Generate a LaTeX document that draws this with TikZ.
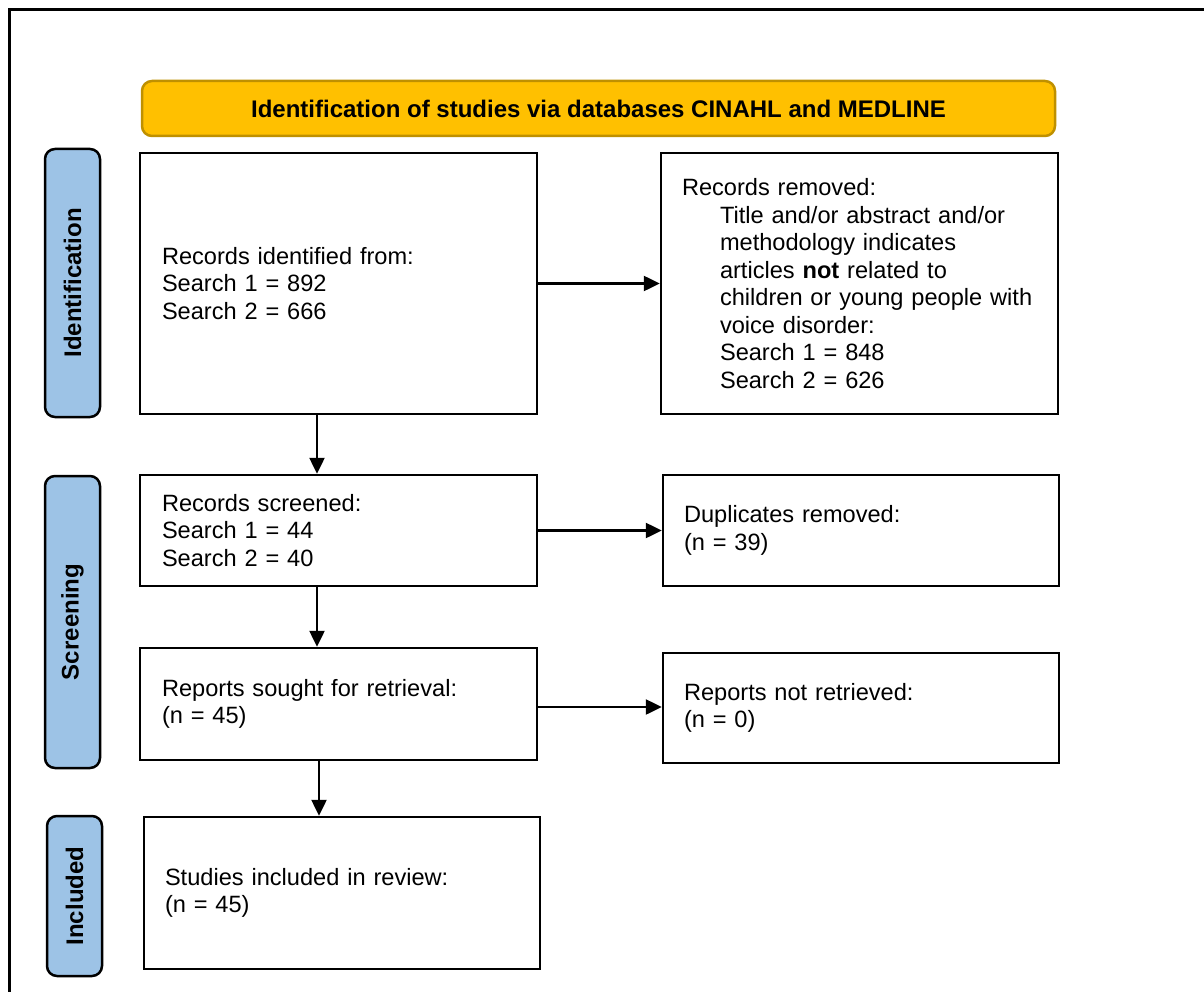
\documentclass[tikz,border=0pt]{standalone}
\usepackage{fontspec}
\setmainfont{Liberation Sans}
\usetikzlibrary{arrows.meta}
\definecolor{bannerfill}{HTML}{FFC000}
\definecolor{bannerline}{HTML}{BF9000}
\definecolor{sidefill}{HTML}{9DC3E6}
\tikzset{
  every node/.style={font=\fontsize{23.6}{27.5}\selectfont},
  box/.style={draw=black, line width=2.5pt, rectangle, align=left, inner ysep=0pt},
  side/.style={draw=black, line width=2.5pt, fill=sidefill, rounded corners=10pt, rotate=90,
    font=\fontsize{24}{27.5}\selectfont\bfseries, inner sep=0pt},
  banner/.style={draw=bannerline, line width=2.5pt, fill=bannerfill, rounded corners=10pt,
    font=\fontsize{24}{27.5}\selectfont\bfseries, inner sep=0pt},
  conn/.style={line width=2.5pt, -{Triangle[length=16pt,width=15pt]}}
}
\begin{document}
\begin{tikzpicture}[x=1pt,y=-1pt]
\useasboundingbox (0,0) rectangle (1204,992);
\draw[line width=3pt] (9,992) -- (9,10) -- (1204,10);

\node[banner, minimum width=913pt, minimum height=55pt] (ban) at (598.5,108.5)
  {Identification of studies via databases CINAHL and MEDLINE};

\node[side, minimum width=268pt, minimum height=55pt] (sid) at (72.5,283) {Identification};
\node[side, minimum width=292pt, minimum height=55pt] (sscr) at (72.5,622) {Screening};
\node[side, minimum width=160pt, minimum height=55pt] (sinc) at (74.5,896) {Included};

\node[box, text width=353pt, inner xsep=22pt, minimum height=261pt] (b1) at (338.5,283.5)
  {Records identified from:\\Search 1 = 892\\Search 2 = 666};
\node[box, text width=355pt, inner xsep=21pt, minimum height=261pt] (b2) at (859.5,283.5)
  {Records removed:\\
   \hspace*{38pt}\mbox{Title and/or abstract and/or}\\
   \hspace*{38pt}\mbox{methodology indicates}\\
   \hspace*{38pt}\mbox{articles \textbf{not} related to}\\
   \hspace*{38pt}\mbox{children or young people with}\\
   \hspace*{38pt}\mbox{voice disorder:}\\
   \hspace*{38pt}\mbox{Search 1 = 848}\\
   \hspace*{38pt}\mbox{Search 2 = 626}};
\node[box, text width=353pt, inner xsep=22pt, minimum height=111pt] (b3) at (338.5,530.5)
  {Records screened:\\Search 1 = 44\\Search 2 = 40};
\node[box, text width=354pt, inner xsep=21pt, minimum height=111pt] (b4) at (861,530.5)
  {Duplicates removed:\\(n = 39)};
\node[box, text width=353pt, inner xsep=22pt, minimum height=112pt] (b5) at (338.5,704)
  {Reports sought for retrieval:\\(n = 45)};
\node[box, text width=354pt, inner xsep=21pt, minimum height=110pt] (b6) at (861,708)
  {Reports not retrieved:\\(n = 0)};
\node[box, text width=354pt, inner xsep=21pt, minimum height=152pt] (b7) at (342,893)
  {Studies included in review:\\(n = 45)};

\coordinate (ax1) at (317,0);
\coordinate (ax2) at (319,0);
\coordinate (ay3) at (0,707);

\draw[conn] (b1.east) -- (b2.west);
\draw[conn] (b3.east) -- (b4.west);
\draw[conn] (b5.east |- ay3) -- (b6.west |- ay3);
\draw[conn] (b1.south -| ax1) -- (b3.north -| ax1);
\draw[conn] (b3.south -| ax1) -- (b5.north -| ax1);
\draw[conn] (b5.south -| ax2) -- (b7.north -| ax2);
\end{tikzpicture}
\end{document}
